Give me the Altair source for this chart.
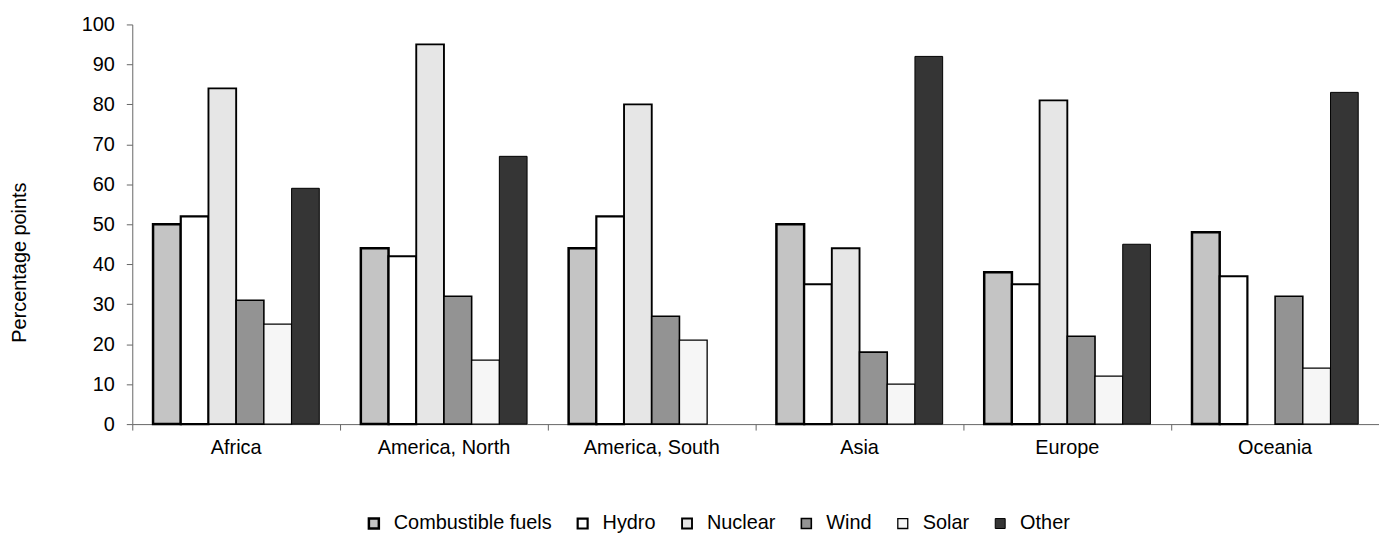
import altair as alt
import pandas as pd

regions = ["Africa", "America, North", "America, South", "Asia", "Europe", "Oceania"]
series = ["Combustible fuels", "Hydro", "Nuclear", "Wind", "Solar", "Other"]

comb = [50, 44, 44, 50, 38, 48]
hydro = [52, 42, 52, 35, 35, 37]
nuclear = [84, 95, 80, 44, 81, None]
wind = [31, 32, 27, 18, 22, 32]
solar = [25, 16, 21, 10, 12, 14]
other = [59, 67, None, 92, 45, 83]

values_by_series = [comb, hydro, nuclear, wind, solar, other]
rows = []
for s, vals in zip(series, values_by_series):
    for r, v in zip(regions, vals):
        if v is not None:
            rows.append({"region": r, "series": s, "value": v})
df = pd.DataFrame(rows)

fills = ["#c4c4c4", "#ffffff", "#e6e6e6", "#939393", "#f6f6f6", "#353535"]
stroke_widths = [2.5, 1, 1, 1, 1, 1.5]

W = 1254
H = 402
FONT = "Liberation Sans"
FS = 20

chart = alt.Chart(df).mark_bar(stroke="black", opacity=1).encode(
    x=alt.X(
        "region:N",
        sort=regions,
        scale=alt.Scale(domain=regions, paddingInner=0, paddingOuter=0),
        axis=alt.Axis(
            title=None, labelAngle=0, bandPosition=0,
            labelFont=FONT, labelFontSize=FS, labelColor="black",
            tickSize=6, labelPadding=8, domainColor="#666666", tickColor="#666666",
        ),
    ),
    xOffset=alt.XOffset(
        "series:N", sort=series,
        scale=alt.Scale(domain=series, paddingInner=0, paddingOuter=0.75),
    ),
    y=alt.Y(
        "value:Q",
        scale=alt.Scale(domain=[0, 100], nice=False),
        axis=alt.Axis(
            values=list(range(0, 101, 10)), title="Percentage points", grid=False,
            labelFont=FONT, labelFontSize=FS, labelColor="black",
            tickSize=6, labelPadding=12, domainColor="#666666", tickColor="#666666",
            titleFont=FONT, titleFontSize=FS, titleFontWeight="normal", titleColor="black",
            titleX=-113, titleY=239, titleBaseline="middle", titleAngle=270,
        ),
    ),
    fill=alt.Fill(
        "series:N", sort=series,
        scale=alt.Scale(domain=series, range=fills),
        legend=alt.Legend(
            orient="none", legendX=233, legendY=492, direction="horizontal", columns=6,
            title=None, symbolType="square", symbolSize=100, symbolStrokeColor="black",
            symbolStrokeWidth=1, symbolOpacity=1, labelFont=FONT, labelFontSize=FS,
            labelColor="black", labelOffset=10, columnPadding=21, padding=0,
        ),
    ),
    strokeWidth=alt.StrokeWidth(
        "series:N", sort=series,
        scale=alt.Scale(domain=series, range=stroke_widths),
        legend=None,
    ),
).properties(
    width=W,
    height=H,
    autosize=alt.AutoSizeParams(type="none"),
    padding={"left": 125, "top": 15, "right": 0, "bottom": 110},
).configure_view(stroke=None)

chart.save("out.html", embed_options={"renderer": "svg", "actions": False})
